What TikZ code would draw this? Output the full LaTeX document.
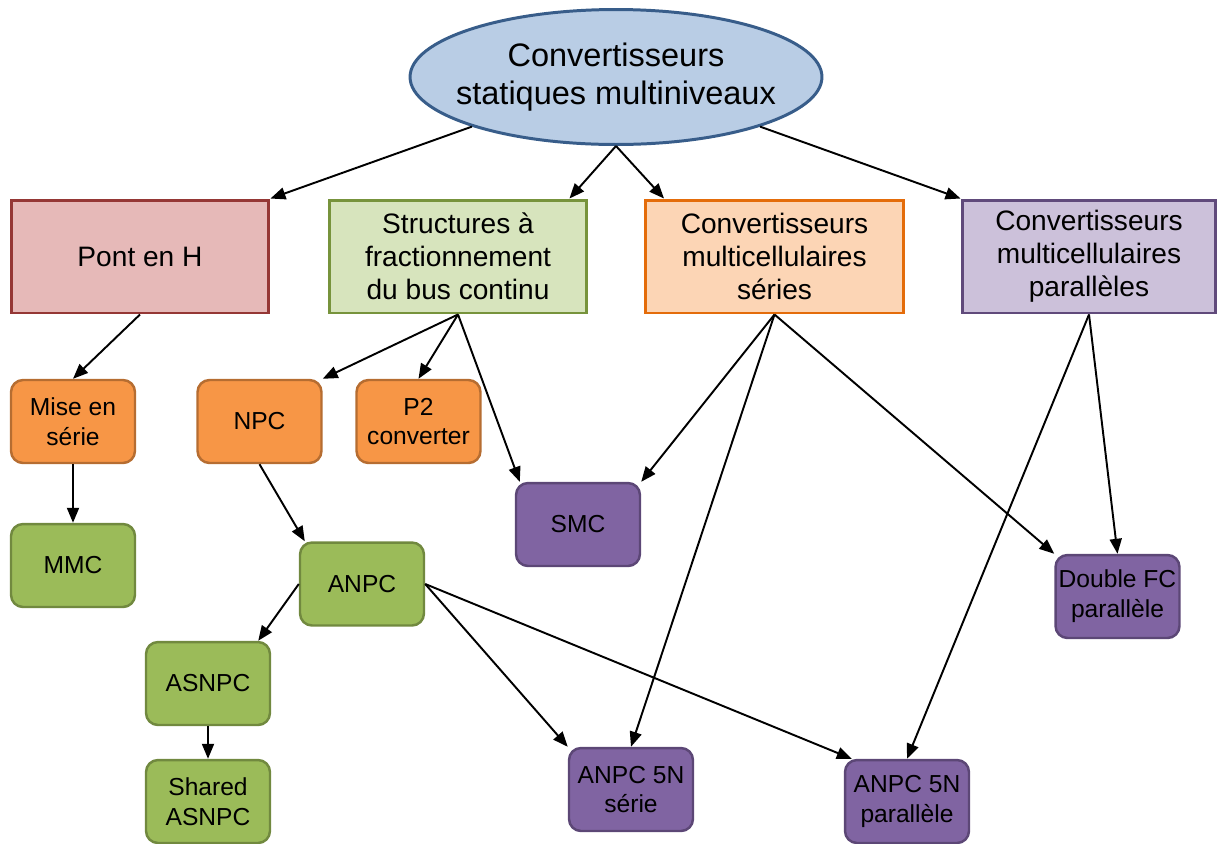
\documentclass[tikz,border=0pt]{standalone}
\usepackage{fontspec}
\setmainfont{Liberation Sans}
\usetikzlibrary{shapes.geometric,arrows.meta}

\definecolor{topfill}{HTML}{B9CDE5}
\definecolor{topline}{HTML}{385D8A}
\definecolor{redfill}{HTML}{E6B9B8}
\definecolor{redline}{HTML}{953735}
\definecolor{lgreenfill}{HTML}{D7E4BD}
\definecolor{lgreenline}{HTML}{77933C}
\definecolor{lorangefill}{HTML}{FCD5B5}
\definecolor{lorangeline}{HTML}{E46C0A}
\definecolor{lpurplefill}{HTML}{CCC1DA}
\definecolor{lpurpleline}{HTML}{604A7B}
\definecolor{orangefill}{HTML}{F79646}
\definecolor{orangeline}{HTML}{B66D31}
\definecolor{greenfill}{HTML}{9BBB59}
\definecolor{greenline}{HTML}{71893F}
\definecolor{purplefill}{HTML}{8064A2}
\definecolor{purpleline}{HTML}{5C4776}

\begin{document}
\begin{tikzpicture}[x=0.02cm, y=-0.02cm,
        bigbox/.style={draw, line width=1.7pt, minimum width=5.16cm, minimum height=2.26cm,
            inner sep=0pt, align=center, font=\fontsize{16}{18.7}\selectfont},
        smallbox/.style={draw, rounded corners=0.24cm, line width=1.4pt, minimum width=2.48cm,
            minimum height=1.66cm, inner sep=0pt, align=center, font=\fontsize{14}{17}\selectfont},
        orangebox/.style={smallbox, fill=orangefill, draw=orangeline},
        greenbox/.style={smallbox, fill=greenfill, draw=greenline},
        purplebox/.style={smallbox, fill=purplefill, draw=purpleline},
        arr/.style={-{Triangle[length=0.3cm, width=0.24cm]}, line width=1.1pt}]
                \useasboundingbox (0,0) rectangle (1217,843);

                \node[ellipse, draw=topline, fill=topfill, line width=1.7pt, minimum width=8.24cm,
                    minimum height=2.7cm, inner xsep=-0.4cm, inner ysep=0pt, align=center,
                    font=\fontsize{18.5}{21.5}\selectfont] (top) at (616,77)
                    {Convertisseurs\\statiques multiniveaux};

                \node[bigbox, fill=redfill, draw=redline] (pont) at (140,256.5) {Pont en H};
                \node[bigbox, fill=lgreenfill, draw=lgreenline] (frac) at (458,256.5)
                    {Structures à\\fractionnement\\du bus continu};
                \node[bigbox, fill=lorangefill, draw=lorangeline] (serie) at (774.5,256.5)
                    {Convertisseurs\\multicellulaires\\séries};
                \node[bigbox, fill=lpurplefill, draw=lpurpleline, minimum width=5.08cm] (para) at (1089,256.5)
                    {Convertisseurs\\multicellulaires\\parallèles};

                \node[orangebox] (mise) at (73,421.5) {Mise en\\série};
                \node[orangebox] (npc) at (259.5,421.5) {NPC};
                \node[orangebox] (ptwo) at (418.5,421.5) {P2\\converter};
                \node[greenbox] (mmc) at (73,565.5) {MMC};
                \node[purplebox] (smc) at (578,524.5) {SMC};
                \node[greenbox] (anpc) at (362,584) {ANPC};
                \node[greenbox] (asnpc) at (208,683.5) {ASNPC};
                \node[greenbox] (shared) at (208,801.5) {Shared\\ASNPC};
                \node[purplebox] (fives) at (631,789.5) {ANPC 5N\\série};
                \node[purplebox] (fivep) at (907,801.5) {ANPC 5N\\parallèle};
                \node[purplebox] (dfc) at (1117.5,596.5) {Double FC\\parallèle};

                \draw[arr] (top.199) to (pont.north east);
                \draw[arr] (top.south) to ([xshift=-0.38cm]frac.north east);
                \draw[arr] (top.south) to ([xshift=0.4cm]serie.north west);
                \draw[arr] (top.-19) to (para.north west);
                \draw[arr] (pont.south) to (mise.north); \draw[arr] (mise.south) to (mmc.north);
                \draw[arr] (frac.south) to (npc.north east); \draw[arr] (frac.south) to (ptwo.north);
                \draw[arr] (frac.south) to ([xshift=0.1cm]smc.north west);
                \draw[arr] (npc.south) to ([xshift=0.12cm]anpc.north west);
                \draw[arr] (anpc.west) to ([xshift=-0.26cm]asnpc.north east);
                \draw[arr] (asnpc.south) to (shared.north);
                \draw[arr] (anpc.east) to (fives.north west);
                \draw[arr] (anpc.east) to ([xshift=0.16cm]fivep.north west);
                \draw[arr] (serie.south) to (smc.north east); \draw[arr] (serie.south) to (fives.north);
                \draw[arr] (serie.south) to (dfc.north west);
                \draw[arr] (para.south) to (dfc.north); \draw[arr] (para.south) to (fivep.north);
            \end{tikzpicture}
\end{document}
